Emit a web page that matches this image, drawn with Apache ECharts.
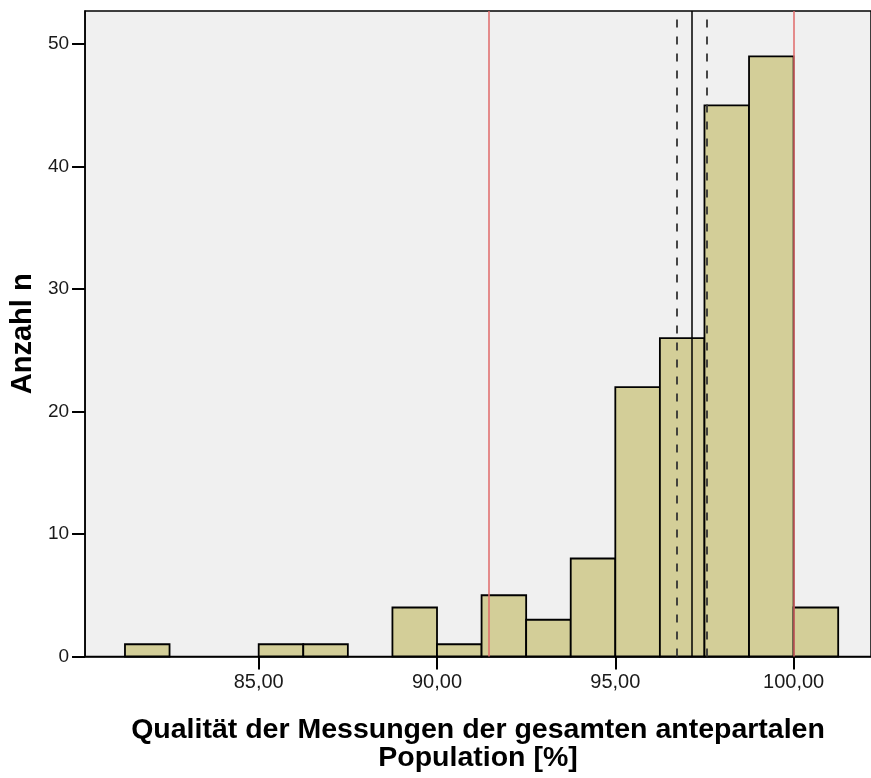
<!DOCTYPE html>
<html>
<head>
<meta charset="utf-8">
<script src="https://cdn.jsdelivr.net/npm/echarts@6/dist/echarts.min.js"></script>
<style>
html,body{margin:0;padding:0;background:#fff;}
#c{width:871px;height:778px;}
</style>
</head>
<body>
<div id="c"></div>
<script>
// ---- data ----
const binLower = [81.25, 85.00, 86.25, 88.75, 90.00, 91.25, 92.50, 93.75, 95.00, 96.25, 97.50, 98.75, 100.00];
const binUpper = [82.50, 86.25, 87.50, 90.00, 91.25, 92.50, 93.75, 95.00, 96.25, 97.50, 98.75, 100.00, 101.25];
const counts   = [1, 1, 1, 4, 1, 5, 3, 8, 22, 26, 45, 49, 4];
const redLines = [91.45, 100.00];
const meanLine = [97.15];
const ciLines  = [96.72, 97.57];
const xTicks = [85, 90, 95, 100];
const yTicks = [0, 10, 20, 30, 40, 50];
const xTitle = 'Qualität der Messungen der gesamten antepartalen\nPopulation [%]';
const yTitle = 'Anzahl n';

const bars = binLower.map((lo, i) => [lo, binUpper[i], counts[i]]);

const chart = echarts.init(document.getElementById('c'), null, {renderer: 'canvas'});
const FONT = 'Liberation Sans, Arial, sans-serif';

function vline(vals, color, type, width) {
  return {
    type: 'line', data: [], z: 5,
    markLine: {
      silent: true, symbol: 'none', animation: false,
      label: {show: false},
      lineStyle: {color: color, type: type, width: width},
      data: vals.map(v => ({xAxis: v}))
    }
  };
}

chart.setOption({
  animation: false,
  grid: {
    left: 82, top: 11, right: -2, bottom: 114,
    show: true, backgroundColor: '#F0F0F0', borderColor: '#000', borderWidth: 1.5
  },
  xAxis: {
    type: 'value', min: 80.13, max: 102.17,
    splitLine: {show: false},
    axisLine: {show: true, onZero: false, lineStyle: {color: '#000', width: 1.5}},
    axisTick: {show: true, length: 13, lineStyle: {color: '#000', width: 2}, customValues: xTicks},
    axisLabel: {
      customValues: xTicks, margin: 16, fontSize: 20, color: '#1a1a1a', fontFamily: FONT,
      formatter: v => v.toFixed(2).replace('.', ',')
    },
    name: xTitle, nameLocation: 'middle', nameGap: 60,
    nameTextStyle: {fontSize: 28.5, fontWeight: 'bold', color: '#000', fontFamily: FONT, lineHeight: 28}
  },
  yAxis: {
    type: 'value', min: 0, max: 52.7,
    splitLine: {show: false},
    axisLine: {show: true, lineStyle: {color: '#000', width: 1.5}},
    axisTick: {show: true, length: 13, lineStyle: {color: '#000', width: 2}, customValues: yTicks},
    axisLabel: {customValues: yTicks, margin: 16, fontSize: 19, color: '#1a1a1a', fontFamily: FONT},
    name: yTitle, nameLocation: 'middle', nameGap: 48,
    nameTextStyle: {fontSize: 29, fontWeight: 'bold', color: '#000', fontFamily: FONT}
  },
  series: [
    {
      type: 'custom', z: 2,
      data: bars,
      encode: {x: [0, 1], y: 2},
      renderItem: function (params, api) {
        const p0 = api.coord([api.value(0), api.value(2)]);
        const p1 = api.coord([api.value(1), 0]);
        return {
          type: 'rect',
          shape: {x: p0[0], y: p0[1], width: p1[0] - p0[0], height: p1[1] - p0[1]},
          style: {fill: '#D3CE98', stroke: '#000', lineWidth: 1.8}
        };
      }
    },
    vline(redLines, '#E06A6A', 'solid', 1.5),
    vline(meanLine, '#000', 'solid', 1.5),
    vline(ciLines, '#333', [8, 9], 1.8)
  ]
});
</script>
</body>
</html>
